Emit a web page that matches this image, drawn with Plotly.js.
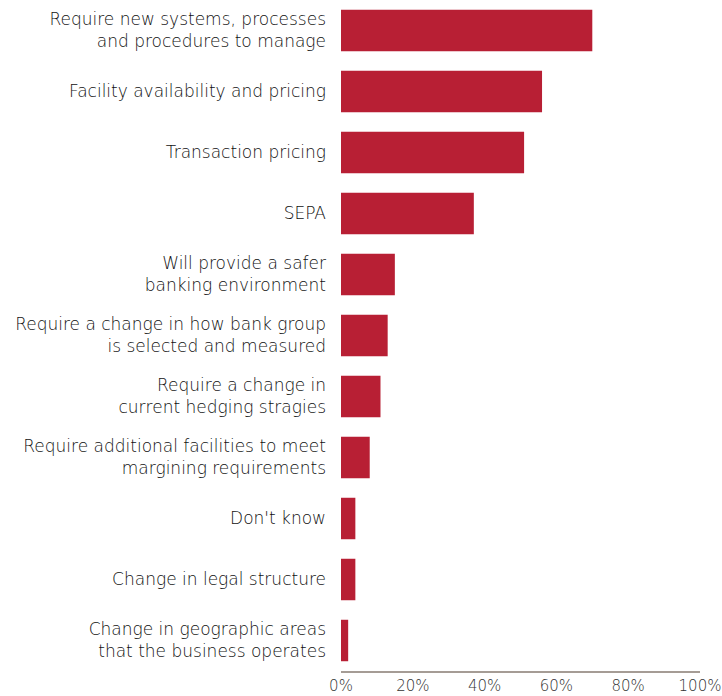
<!DOCTYPE html>
<html><head><meta charset="utf-8">
<script src="https://cdn.plot.ly/plotly-3.0.1.min.js"></script>
<style>html,body{margin:0;padding:0;background:#fff}</style>
</head><body>
<div id="chart" style="width:722px;height:696px"></div>
<script>
const categories = [
  "Require new systems, processes<br>and procedures to manage",
  "Facility availability and pricing",
  "Transaction pricing",
  "SEPA",
  "Will provide a safer<br>banking environment",
  "Require a change in how bank group<br>is selected and measured",
  "Require a change in<br>current hedging stragies",
  "Require additional facilities to meet<br>margining requirements",
  "Don't know",
  "Change in legal structure",
  "Change in geographic areas<br>that the business operates"
];
const values = [70, 56, 51, 37, 15, 13, 11, 8, 4, 4, 2];
const tickVals = [0, 20, 40, 60, 80, 100];
const tickText = ["0%", "20%", "40%", "60%", "80%", "100%"];

const fam = 'DejaVu Sans, Liberation Sans, sans-serif';
Plotly.newPlot('chart', [{
  type: 'bar', orientation: 'h',
  x: values, y: categories,
  marker: {color: '#b81f34'},
  width: 0.68,
  hoverinfo: 'none'
}], {
  width: 722, height: 696,
  margin: {l: 341, r: 22, t: 0, b: 25},
  paper_bgcolor: '#fff', plot_bgcolor: '#fff',
  font: {family: fam, size: 16, color: '#111', weight: 300},
  bargap: 0.32,
  showlegend: false,
  xaxis: {
    range: [0, 100], tickvals: tickVals, ticktext: tickText,
    showgrid: false, zeroline: false, showline: true,
    linecolor: '#a59c95', linewidth: 2,
    ticks: '', ticklabeloverflow: 'allow',
    tickfont: {family: fam, size: 15, color: '#333', weight: 300},
    fixedrange: true
  },
  yaxis: {
    autorange: 'reversed', showgrid: false, zeroline: false, showline: false,
    ticks: '', ticklabelstandoff: 14,
    tickfont: {family: fam, size: 17, color: '#111', weight: 300},
    fixedrange: true
  }
}, {displayModeBar: false, staticPlot: true});
</script>
</body></html>
